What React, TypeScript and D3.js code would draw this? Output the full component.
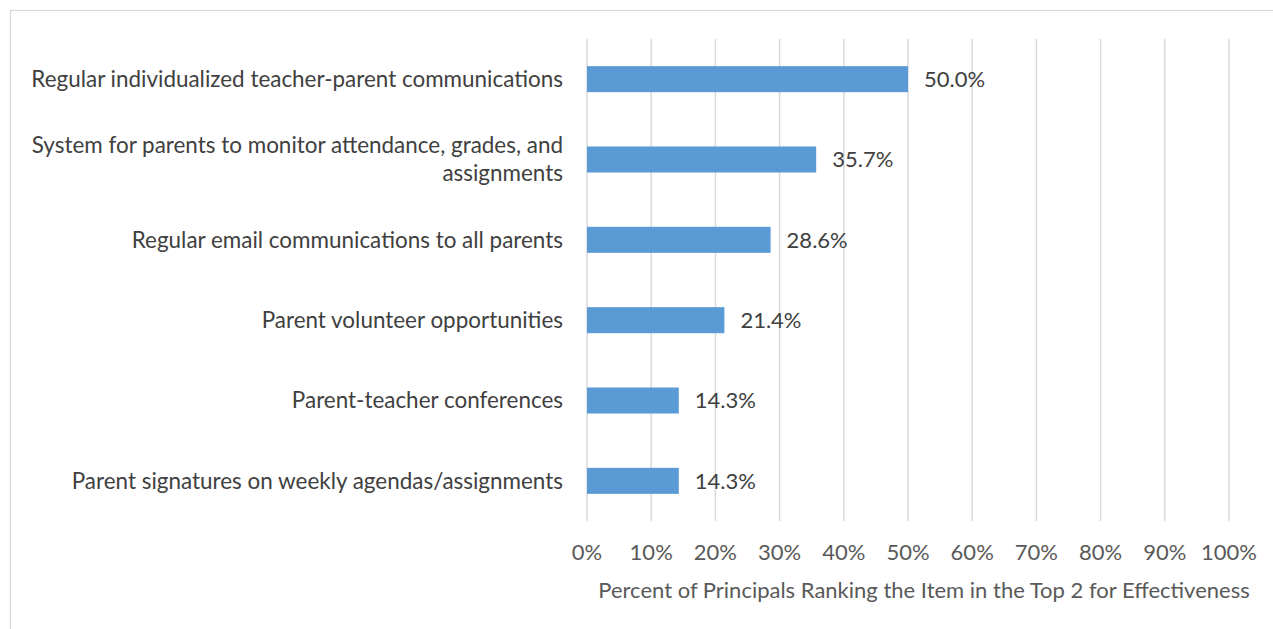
import React from "react";
import * as d3 from "d3";

const categories = [
  ["Regular individualized teacher-parent communications"],
  ["System for parents to monitor attendance, grades, and", "assignments"],
  ["Regular email communications to all parents"],
  ["Parent volunteer opportunities"],
  ["Parent-teacher conferences"],
  ["Parent signatures on weekly agendas/assignments"],
];
const values = [50.0, 35.7, 28.6, 21.4, 14.3, 14.3];
const ticks = [0, 10, 20, 30, 40, 50, 60, 70, 80, 90, 100];
const axisTitle = "Percent of Principals Ranking the Item in the Top 2 for Effectiveness";

const W = 1273, H = 629;
const FONT = "Lato, 'Open Sans', sans-serif";
const FS = 22;

export default function App() {
  const x = d3.scaleLinear().domain([0, 100]).range([587, 1229]);
  const y = d3.scaleBand<number>().domain(d3.range(values.length)).range([39, 521]).paddingInner(0.676).paddingOuter(0.338);
  return (
    <svg width={W} height={H} style={{ position: "fixed", left: 0, top: 0 }} fontFamily={FONT}>
      <rect x={0} y={0} width={W} height={H} fill="#fff" />
      <rect x={10.5} y={10.5} width={W + 20} height={H + 20} fill="none" stroke="#D9D9D9" strokeWidth={1.2} />
      {ticks.map((t) => (
        <line key={t} x1={x(t)} x2={x(t)} y1={39} y2={521} stroke="#D9D9D9" strokeWidth={1.5} />
      ))}
      {values.map((v, i) => (
        <rect key={i} x={x(0)} y={y(i)!} width={x(v) - x(0)} height={y.bandwidth()} fill="#5B9BD5" />
      ))}
      {values.map((v, i) => (
        <text key={i} x={x(v) + 16} y={y(i)! + y.bandwidth() / 2} dy="0.35em" fontSize={FS} fill="#404040">
          {v.toFixed(1)}%
        </text>
      ))}
      {categories.map((lines, i) => {
        const cy = y(i)! + y.bandwidth() / 2;
        const lh = 28;
        return (
          <text key={i} x={563} textAnchor="end" fontSize={22.45} fill="#404040">
            {lines.map((l, j) => (
              <tspan key={j} x={563} y={cy + (j - (lines.length - 1) / 2) * lh} dy="0.35em">{l}</tspan>
            ))}
          </text>
        );
      })}
      {ticks.map((t) => (
        <text key={t} x={x(t)} y={552} dy="0.35em" textAnchor="middle" fontSize={FS} fill="#595959">
          {t}%
        </text>
      ))}
      <text x={924} y={590} dy="0.35em" textAnchor="middle" fontSize={FS} fill="#595959">
        {axisTitle}
      </text>
    </svg>
  );
}
